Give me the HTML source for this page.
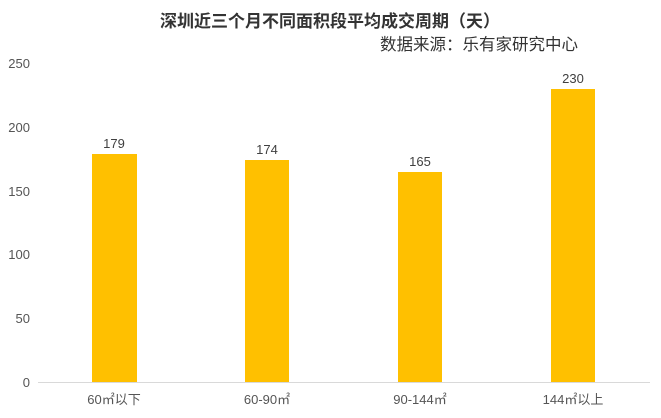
<!DOCTYPE html>
<html><head><meta charset="utf-8"><style>
body{margin:0;background:#fff;}
svg text{font-family:"Liberation Sans","Noto Sans CJK SC",sans-serif;}
</style></head><body>
<svg width="661" height="413" viewBox="0 0 661 413" xmlns="http://www.w3.org/2000/svg">
<text x="330" y="27" text-anchor="middle" font-size="17" font-weight="bold" fill="#333">深圳近三个月不同面积段平均成交周期（天）</text>
<text x="380" y="50" font-size="16.5" fill="#333">数据来源：乐有家研究中心</text>
<g font-size="13" fill="#555" text-anchor="end">
<text x="30" y="68">250</text>
<text x="30" y="132">200</text>
<text x="30" y="196">150</text>
<text x="30" y="259">100</text>
<text x="30" y="323">50</text>
<text x="30" y="387">0</text>
</g>
<line x1="38" y1="382.5" x2="650" y2="382.5" stroke="#d9d9d9" stroke-width="1"/>
<g fill="#FFC000">
<rect x="92" y="154" width="45" height="228"/>
<rect x="245" y="160" width="44" height="222"/>
<rect x="398" y="172" width="44" height="210"/>
<rect x="551" y="89" width="44" height="293"/>
</g>
<g font-size="13" fill="#404040" text-anchor="middle">
<text x="114" y="148">179</text>
<text x="267" y="154">174</text>
<text x="420" y="166">165</text>
<text x="573" y="83">230</text>
</g>
<g font-size="13" fill="#555" text-anchor="middle">
<text x="114" y="404">60㎡以下</text>
<text x="267" y="404">60-90㎡</text>
<text x="420" y="404">90-144㎡</text>
<text x="573" y="404">144㎡以上</text>
</g>
</svg>
</body></html>
